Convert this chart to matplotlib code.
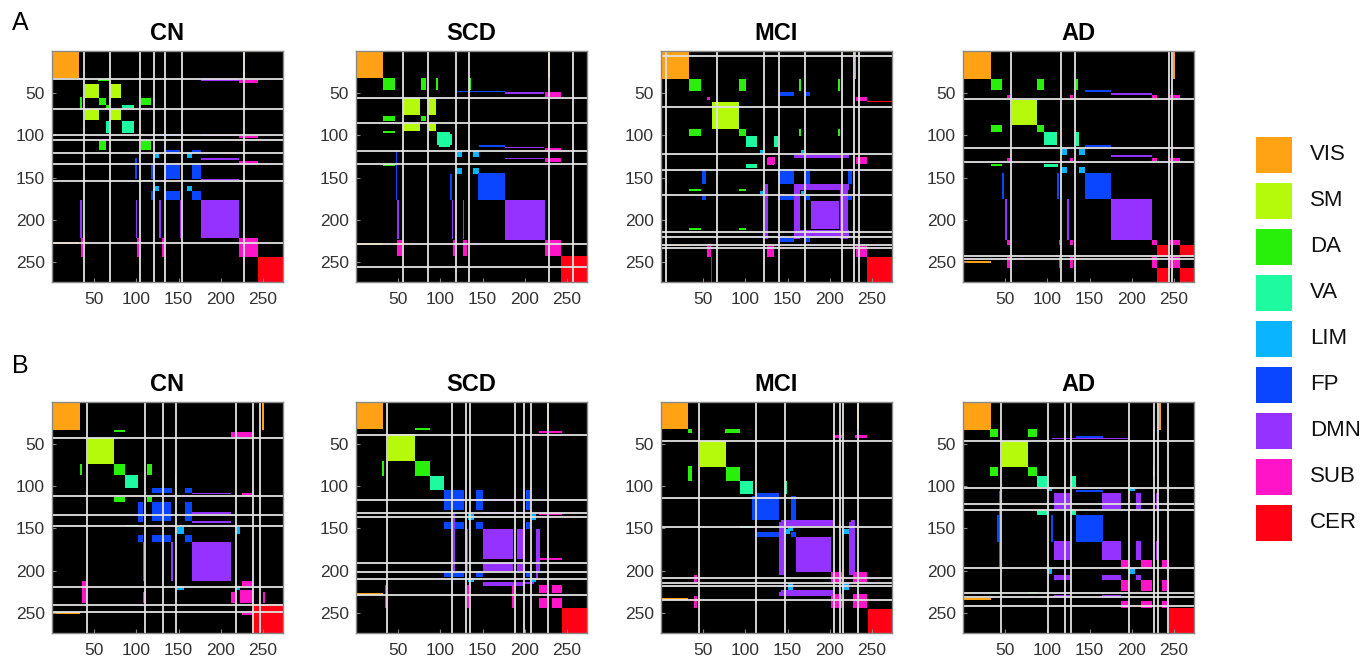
import numpy as np
import matplotlib.pyplot as plt
from matplotlib.colors import ListedColormap
from matplotlib.patches import Rectangle

plt.rcParams["font.family"] = ["Liberation Sans", "DejaVu Sans"]

n_nodes = 273
networks = ["VIS", "SM", "DA", "VA", "LIM", "FP", "DMN", "SUB", "CER"]
net_colors = ["#ffa214", "#b4fa0a", "#28f00a", "#1efaa0", "#0ab4ff",
              "#0a46ff", "#9632ff", "#ff14c8", "#ff0014"]
groups = ["CN", "SCD", "MCI", "AD"]
ticks = [50, 100, 150, 200, 250]

# blocks: (network, x0, x1, y0, y1) in node index, mirrored over the diagonal
a_cn_blocks = [
    ("VIS", 0, 32, 0, 32), ("SM", 39, 56, 39, 56), ("SM", 69, 82, 39, 56),
    ("SM", 69, 82, 68, 82), ("DA", 56, 64, 56, 64), ("DA", 105, 117, 56, 64),
    ("DA", 105, 117, 105, 117), ("DA", 64, 68, 64, 68), ("VA", 83, 97, 83, 97),
    ("VA", 83, 97, 64, 67), ("LIM", 121, 127, 121, 127), ("LIM", 159, 165, 121, 127),
    ("LIM", 159, 165, 159, 165), ("FP", 134, 151, 134, 151), ("FP", 166, 176, 134, 151),
    ("FP", 166, 176, 166, 176), ("FP", 117, 121, 134, 151), ("FP", 117, 121, 166, 176),
    ("FP", 127, 151, 98, 100), ("DMN", 176, 221, 176, 221), ("DMN", 176, 221, 33, 35),
    ("DMN", 176, 221, 99, 101), ("DMN", 176, 221, 127, 129), ("DMN", 176, 221, 151, 153),
    ("SUB", 221, 243, 221, 243), ("SUB", 34, 38, 221, 243), ("SUB", 100, 103, 221, 243),
    ("SUB", 130, 133, 221, 243), ("CER", 243, 273, 243, 273), ("VIS", 226, 228, 0, 32),
    ("DA", 33, 35, 54, 68), ("DA", 105, 117, 152, 154),
]
a_cn_vlines = [38, 68, 104, 121, 134, 154, 227]
a_cn_hlines = [33, 68, 99, 105, 121, 134, 154, 227]

a_scd_blocks = [
    ("VIS", 0, 32, 0, 32), ("DA", 32, 46, 32, 46), ("DA", 77, 83, 32, 46),
    ("DA", 77, 83, 77, 83), ("DA", 95, 97, 32, 46), ("DA", 32, 46, 134, 136),
    ("SM", 56, 76, 56, 76), ("SM", 85, 95, 56, 76), ("SM", 85, 95, 85, 95),
    ("VA", 96, 111, 96, 111), ("LIM", 118, 125, 118, 125), ("LIM", 138, 145, 118, 125),
    ("LIM", 138, 145, 138, 145), ("FP", 144, 176, 144, 176), ("FP", 117, 176, 47, 49),
    ("FP", 145, 176, 111, 113), ("DMN", 176, 223, 176, 223), ("DMN", 176, 222, 49, 51),
    ("DMN", 176, 222, 113, 115), ("DMN", 176, 222, 126, 128), ("SUB", 223, 242, 223, 242),
    ("SUB", 223, 242, 49, 54), ("SUB", 223, 242, 115, 118), ("SUB", 223, 242, 127, 131),
    ("CER", 242, 273, 242, 273), ("VIS", 227, 229, 0, 32), ("VA", 111, 113, 98, 111),
]
a_scd_vlines = [55, 85, 118, 134, 228, 256]
a_scd_hlines = [55, 85, 118, 134, 228, 255]

a_mci_blocks = [
    ("VIS", 0, 33, 0, 33), ("DA", 33, 47, 33, 47), ("DA", 92, 100, 33, 47),
    ("DA", 92, 100, 92, 100), ("DA", 163, 165, 33, 47), ("DA", 209, 211, 33, 47),
    ("DA", 163, 165, 92, 101), ("DA", 209, 211, 92, 101), ("SM", 60, 92, 60, 92),
    ("VA", 101, 114, 101, 114), ("VA", 134, 138, 101, 114), ("LIM", 117, 121, 117, 121),
    ("LIM", 165, 169, 117, 121), ("LIM", 165, 169, 165, 169), ("FP", 139, 157, 139, 157),
    ("FP", 171, 176, 139, 157), ("FP", 171, 176, 171, 176), ("FP", 48, 53, 139, 157),
    ("FP", 48, 53, 171, 176), ("FP", 139, 157, 221, 226), ("FP", 171, 176, 221, 226),
    ("DMN", 177, 210, 177, 210), ("DMN", 157, 164, 157, 222), ("DMN", 212, 221, 157, 222),
    ("DMN", 123, 127, 157, 222), ("SUB", 230, 244, 230, 244), ("SUB", 125, 134, 230, 244),
    ("SUB", 54, 59, 230, 244), ("SUB", 125, 134, 127, 135), ("SUB", 54, 58, 54, 58),
    ("SUB", 230, 244, 55, 59), ("CER", 244, 273, 244, 273), ("CER", 244, 273, 59, 60),
    ("VIS", 229, 231, 0, 33),
]
a_mci_vlines = [6, 66, 122, 140, 170, 214, 228, 234]
a_mci_hlines = [6, 66, 122, 141, 170, 214, 220, 229, 233]

a_ad_blocks = [
    ("VIS", 0, 33, 0, 33), ("DA", 33, 46, 33, 46), ("DA", 88, 96, 33, 46),
    ("DA", 88, 96, 88, 96), ("DA", 133, 136, 33, 46), ("SM", 58, 88, 58, 88),
    ("VA", 96, 111, 96, 111), ("VA", 133, 137, 96, 112), ("LIM", 116, 123, 116, 123),
    ("LIM", 137, 144, 116, 123), ("LIM", 137, 144, 137, 144), ("FP", 144, 175, 144, 175),
    ("FP", 144, 175, 46, 48), ("FP", 144, 175, 111, 113), ("DMN", 175, 223, 175, 223),
    ("DMN", 175, 223, 50, 52), ("DMN", 175, 223, 123, 125), ("SUB", 223, 229, 223, 229),
    ("SUB", 243, 257, 223, 229), ("SUB", 243, 257, 243, 257), ("SUB", 52, 56, 223, 229),
    ("SUB", 126, 130, 223, 229), ("SUB", 113, 115, 223, 229), ("SUB", 52, 56, 243, 257),
    ("SUB", 126, 130, 243, 257), ("SUB", 113, 115, 243, 257), ("SUB", 126, 130, 52, 56),
    ("SUB", 52, 56, 52, 56), ("SUB", 126, 130, 126, 130), ("CER", 229, 243, 229, 243),
    ("CER", 257, 273, 229, 243), ("CER", 257, 273, 257, 273), ("VIS", 248, 250, 0, 33),
]
a_ad_vlines = [57, 116, 132, 243, 247]
a_ad_hlines = [57, 115, 131, 242, 246]

b_cn_blocks = [
    ("VIS", 0, 33, 0, 33), ("SM", 42, 73, 42, 73), ("DA", 73, 86, 73, 86),
    ("DA", 112, 118, 73, 86), ("DA", 112, 118, 112, 118), ("DA", 33, 35, 73, 86),
    ("VA", 86, 102, 86, 102), ("FP", 118, 141, 118, 141), ("FP", 157, 166, 118, 141),
    ("FP", 157, 166, 157, 166), ("FP", 102, 107, 118, 142), ("FP", 102, 107, 157, 166),
    ("LIM", 148, 156, 148, 156), ("LIM", 217, 222, 148, 156), ("LIM", 217, 222, 217, 222),
    ("DMN", 166, 211, 166, 211), ("DMN", 166, 211, 107, 109), ("DMN", 166, 211, 130, 132),
    ("DMN", 166, 211, 141, 143), ("SUB", 222, 238, 222, 238), ("SUB", 212, 217, 224, 238),
    ("SUB", 36, 41, 212, 238), ("SUB", 107, 111, 224, 238), ("SUB", 249, 252, 224, 238),
    ("CER", 239, 273, 239, 273), ("VIS", 248, 250, 0, 33), ("VA", 86, 102, 145, 147),
]
b_cn_vlines = [41, 110, 131, 146, 217, 238, 246]
b_cn_hlines = [42, 111, 133, 146, 219, 240, 248]

b_scd_blocks = [
    ("VIS", 0, 32, 0, 32), ("SM", 38, 70, 38, 70), ("DA", 70, 88, 70, 88),
    ("DA", 31, 33, 70, 88), ("VA", 88, 104, 88, 104), ("FP", 104, 128, 104, 128),
    ("FP", 142, 150, 104, 128), ("FP", 142, 150, 142, 150), ("FP", 201, 207, 104, 128),
    ("FP", 201, 207, 142, 150), ("FP", 201, 207, 201, 207), ("DMN", 150, 185, 150, 185),
    ("DMN", 190, 200, 150, 185), ("DMN", 190, 200, 190, 200), ("DMN", 130, 132, 150, 200),
    ("DMN", 131, 201, 115, 117), ("DMN", 150, 200, 215, 217), ("DMN", 213, 215, 150, 210),
    ("LIM", 132, 140, 132, 140), ("LIM", 208, 213, 132, 140), ("LIM", 208, 213, 208, 213),
    ("SUB", 216, 226, 216, 226), ("SUB", 232, 243, 216, 226), ("SUB", 232, 243, 232, 243),
    ("SUB", 34, 37, 216, 243), ("SUB", 131, 134, 216, 243), ("SUB", 184, 187, 216, 243),
    ("CER", 243, 273, 243, 273), ("VIS", 226, 228, 0, 32),
]
b_scd_vlines = [37, 114, 130, 135, 188, 199, 207, 227]
b_scd_hlines = [39, 116, 131, 136, 190, 201, 209, 228]

b_mci_blocks = [
    ("VIS", 0, 32, 0, 32), ("DA", 32, 37, 32, 37), ("DA", 76, 93, 32, 37),
    ("DA", 77, 93, 77, 93), ("SM", 46, 77, 46, 77), ("VA", 93, 109, 93, 109),
    ("FP", 111, 140, 111, 140), ("FP", 154, 160, 111, 140), ("FP", 154, 160, 154, 160),
    ("FP", 107, 111, 111, 140), ("DMN", 160, 201, 160, 201), ("DMN", 140, 146, 142, 204),
    ("DMN", 222, 226, 142, 204), ("DMN", 140, 204, 225, 229), ("LIM", 148, 153, 150, 156),
    ("LIM", 214, 222, 150, 156), ("LIM", 214, 222, 214, 222), ("SUB", 201, 214, 201, 214),
    ("SUB", 227, 244, 201, 214), ("SUB", 227, 244, 227, 244), ("SUB", 39, 43, 204, 214),
    ("SUB", 39, 43, 229, 244), ("CER", 245, 273, 245, 273), ("VIS", 232, 234, 0, 32),
    ("VA", 93, 109, 147, 149),
]
b_mci_vlines = [45, 112, 146, 205, 211, 215, 233]
b_mci_hlines = [46, 113, 148, 208, 214, 218, 234]

b_ad_blocks = [
    ("VIS", 0, 33, 0, 33), ("DA", 32, 41, 32, 41), ("DA", 77, 87, 32, 41),
    ("DA", 77, 87, 77, 87), ("DA", 224, 226, 32, 42), ("DA", 224, 226, 77, 87),
    ("SM", 46, 77, 46, 77), ("VA", 87, 100, 87, 100), ("VA", 128, 134, 87, 100),
    ("VA", 128, 134, 128, 134), ("DMN", 107, 127, 107, 127), ("DMN", 164, 187, 107, 127),
    ("DMN", 164, 187, 164, 187), ("DMN", 204, 210, 107, 127), ("DMN", 204, 210, 164, 187),
    ("DMN", 204, 210, 204, 210), ("DMN", 107, 127, 228, 230), ("DMN", 164, 187, 228, 230),
    ("DMN", 42, 44, 105, 195), ("FP", 134, 165, 134, 165), ("FP", 104, 106, 134, 165),
    ("FP", 40, 42, 134, 165), ("LIM", 101, 105, 101, 105), ("LIM", 196, 203, 101, 105),
    ("LIM", 196, 203, 196, 203), ("SUB", 187, 196, 187, 196), ("SUB", 210, 223, 187, 196),
    ("SUB", 235, 243, 187, 196), ("SUB", 210, 223, 210, 223), ("SUB", 235, 243, 210, 223),
    ("SUB", 235, 243, 235, 243), ("CER", 243, 273, 243, 273), ("VIS", 232, 234, 0, 33),
]
b_ad_vlines = [45, 101, 121, 128, 196, 226, 231, 242]
b_ad_hlines = [46, 102, 121, 128, 196, 226, 231, 241]

rows = [
    [(a_cn_blocks, a_cn_vlines, a_cn_hlines), (a_scd_blocks, a_scd_vlines, a_scd_hlines),
     (a_mci_blocks, a_mci_vlines, a_mci_hlines), (a_ad_blocks, a_ad_vlines, a_ad_hlines)],
    [(b_cn_blocks, b_cn_vlines, b_cn_hlines), (b_scd_blocks, b_scd_vlines, b_scd_hlines),
     (b_mci_blocks, b_mci_vlines, b_mci_hlines), (b_ad_blocks, b_ad_vlines, b_ad_hlines)],
]


def build_matrix(blocks):
    m = np.zeros((n_nodes, n_nodes), dtype=int)
    for net, x0, x1, y0, y1 in blocks:
        k = networks.index(net) + 1
        m[y0:y1, x0:x1] = k
        m[x0:x1, y0:y1] = k
    return m


cmap = ListedColormap(["#000000"] + net_colors)

W, H = 1363, 658
fig = plt.figure(figsize=(W / 100, H / 100), dpi=100)

col_left = [52, 356, 661, 963]
row_top = [51, 402]
size = 231

for r, row in enumerate(rows):
    for c, (blocks, vlines, hlines) in enumerate(row):
        ax = fig.add_axes([col_left[c] / W, 1 - (row_top[r] + size) / H, size / W, size / H])
        m = build_matrix(blocks)
        ax.imshow(m, cmap=cmap, vmin=-0.5, vmax=9.5, interpolation="nearest",
                  extent=(0.5, n_nodes + 0.5, n_nodes + 0.5, 0.5), aspect="auto")
        for x in vlines:
            ax.axvline(x + 0.5, color="#e2e2e2", lw=1.3)
        for y in hlines:
            ax.axhline(y + 0.5, color="#e2e2e2", lw=1.3)
        ax.set_xticks(ticks)
        ax.set_yticks(ticks)
        ax.tick_params(direction="in", length=3, width=0.8, color="#8a8a8a",
                       labelsize=12.5, labelcolor="#333333")
        ax.tick_params(axis="x", pad=7)
        ax.tick_params(axis="y", pad=5)
        for s in ax.spines.values():
            s.set_color("#8a8a8a")
            s.set_linewidth(1.0)
        ax.set_title(groups[c], fontsize=17, fontweight="bold", pad=8)

fig.text(12 / W, 1 - 30 / H, "A", fontsize=18, va="baseline")
fig.text(12 / W, 1 - 373 / H, "B", fontsize=18, va="baseline")

# legend drawn in figure pixel space
lax = fig.add_axes([0, 0, 1, 1])
lax.set_xlim(0, W)
lax.set_ylim(H, 0)
lax.axis("off")
for i, (name, col) in enumerate(zip(networks, net_colors)):
    top = 137 + i * 46
    lax.add_patch(Rectangle((1256, top), 36, 36, facecolor=col, edgecolor="none"))
    lax.text(1310, top + 18, name, fontsize=16, va="center", ha="left", color="#111111")

fig.savefig("out.png", dpi=100)
